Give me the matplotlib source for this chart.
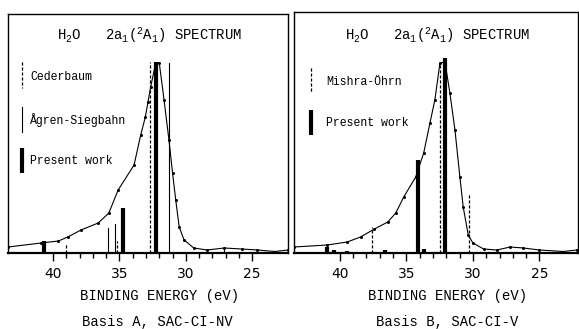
import matplotlib
matplotlib.use("Agg")
import matplotlib.pyplot as plt
from matplotlib.ticker import FixedLocator

plt.rcParams['font.family'] = ['Liberation Mono', 'DejaVu Sans']
plt.rcParams['mathtext.fontset'] = 'custom'
plt.rcParams['mathtext.rm'] = 'Liberation Mono'
plt.rcParams['mathtext.it'] = 'Liberation Mono'

# experimental spectrum, left panel (binding energy eV, intensity arb.)
left_ev = [43.4, 40.9, 39.6, 38.9, 37.9, 36.6, 35.8, 35.1, 33.9, 33.4, 33.05, 32.85,
           32.65, 32.27, 32.0, 31.64, 31.27, 31.0, 30.76, 30.5, 30.13, 29.4, 28.4,
           27.1, 25.8, 24.6, 23.3, 22.3]
left_int = [6, 10, 12, 16, 23, 30, 40, 63, 88, 118, 136, 151,
            166, 190, 190, 153, 113, 80, 53, 26, 13, 5, 3,
            5, 4, 3, 1.5, 3]

# experimental spectrum, right panel
right_ev = [43.46, 40.95, 39.45, 38.45, 37.4, 36.4, 35.8, 35.2, 34.3, 33.7, 33.23,
            32.86, 32.48, 32.1, 31.73, 31.35, 30.98, 30.73, 30.35, 30.0, 29.2, 28.2,
            27.2, 26.2, 25.0, 23.2, 22.2]
right_int = [6, 8, 11, 16, 24, 31, 40, 56, 76, 100, 130,
             153, 190, 191, 160, 123, 76, 46, 18, 10, 4, 3,
             6, 5, 3, 1.5, 3]

# theoretical line spectra
ceder_ev = [32.73, 39.0, 35.2]
ceder_int = [191, 9, 12]
agren_ev = [31.3, 35.9, 35.3, 27.1]
agren_int = [190, 25, 29, 6]
presA_ev = [32.27, 34.75, 40.66]
presA_int = [191, 45, 12]

mishra_ev = [32.45, 30.28, 37.6]
mishra_int = [190, 59, 26]
presB_ev = [32.1, 34.1, 41.0, 40.45, 39.45, 36.6, 33.7]
presB_int = [195, 93, 6, 3, 2, 3, 4]

major_ticks = [40, 35, 30, 25]
minor_ticks = list(range(25, 41))

title = r"H$_2$O   2a$_1$($^2$A$_1$) SPECTRUM"
xlabel = "BINDING ENERGY (eV)"
captions = ["Basis A, SAC-CI-NV", "Basis B, SAC-CI-V"]

dash = (0, (2.5, 1.5))
thin = dict(color='black', lw=0.8)
thick = dict(color='black', lw=3.0, solid_capstyle='butt')
dashed = dict(color='black', lw=0.9, ls=dash)

fig = plt.figure(figsize=(5.79, 3.29), dpi=100)
axL = fig.add_axes([8 / 579, 1 - 253 / 329, 280 / 579, 239 / 329])
axR = fig.add_axes([294 / 579, 1 - 253 / 329, 284 / 579, 241 / 329])


def setup(ax, xlim, ytop):
    ax.set_xlim(*xlim)
    ax.set_ylim(0, ytop)
    ax.xaxis.set_major_locator(FixedLocator(major_ticks))
    ax.xaxis.set_minor_locator(FixedLocator(minor_ticks))
    ax.tick_params(axis='x', which='major', direction='out', length=6, width=1.0,
                   pad=4, labelsize=10, labelfontfamily='DejaVu Sans')
    ax.tick_params(axis='x', which='minor', direction='out', length=3.5, width=1.0)
    ax.set_yticks([])
    for s in ax.spines.values():
        s.set_linewidth(1.0)
    ax.spines['bottom'].set_linewidth(1.6)


def sticks(ax, ev, inten, style):
    for e, h in zip(ev, inten):
        ax.plot([e, e], [0, h], **style)


# left panel
setup(axL, (43.4, 22.3), 239)
axL.plot(left_ev, left_int, color='black', lw=0.8, marker='o', ms=1.2)
sticks(axL, ceder_ev, ceder_int, dashed)
sticks(axL, agren_ev, agren_int, thin)
sticks(axL, presA_ev, presA_int, thick)
axL.text(0.504, 0.912, title, transform=axL.transAxes, ha='center', va='center', fontsize=10)
axL.plot([0.049, 0.049], [0.799, 0.690], transform=axL.transAxes, **dashed)
axL.text(0.079, 0.736, "Cederbaum", transform=axL.transAxes, va='center', fontsize=8.3)
axL.plot([0.049, 0.049], [0.611, 0.506], transform=axL.transAxes, **thin)
axL.text(0.079, 0.556, "Ågren-Siegbahn", transform=axL.transAxes, va='center', fontsize=8.3)
axL.plot([0.049, 0.049], [0.439, 0.335], transform=axL.transAxes, **thick)
axL.text(0.079, 0.385, "Present work", transform=axL.transAxes, va='center', fontsize=8.3)

# right panel
setup(axR, (43.45, 22.1), 241)
axR.plot(right_ev, right_int, color='black', lw=0.8, marker='o', ms=1.2)
sticks(axR, mishra_ev, mishra_int, dashed)
sticks(axR, presB_ev, presB_int, thick)
axR.text(0.504, 0.905, title, transform=axR.transAxes, ha='center', va='center', fontsize=10)
axR.plot([0.059, 0.059], [0.768, 0.668], transform=axR.transAxes, **dashed)
axR.text(0.113, 0.710, "Mishra-Öhrn", transform=axR.transAxes, va='center', fontsize=8.3)
axR.plot([0.059, 0.059], [0.593, 0.490], transform=axR.transAxes, **thick)
axR.text(0.113, 0.539, "Present work", transform=axR.transAxes, va='center', fontsize=8.3)

# axis labels and captions
fig.text(160 / 579, 1 - 296 / 329, xlabel, ha='center', va='center', fontsize=10)
fig.text(448 / 579, 1 - 296 / 329, xlabel, ha='center', va='center', fontsize=10)
fig.text(157 / 579, 1 - 322 / 329, captions[0], ha='center', va='center', fontsize=10)
fig.text(447 / 579, 1 - 322 / 329, captions[1], ha='center', va='center', fontsize=10)

fig.savefig("out.png", dpi=100)
